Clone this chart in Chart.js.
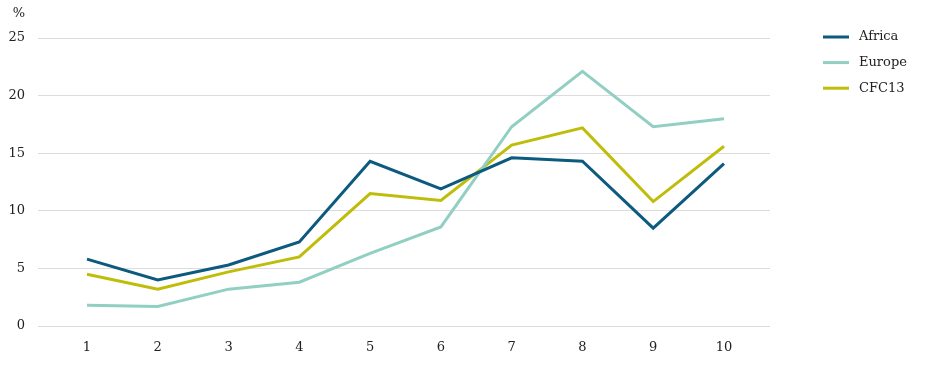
<!DOCTYPE html>
<html>
<head>
<meta charset="utf-8">
<script src="https://cdn.jsdelivr.net/npm/chart.js@4"></script>
<style>
  html, body { margin: 0; padding: 0; background: #fff; }
  #wrap { width: 949px; height: 370px; }
</style>
</head>
<body>
<div id="wrap"><canvas id="chart" width="949" height="370"></canvas></div>
<script>
// Datos
const categories = [1, 2, 3, 4, 5, 6, 7, 8, 9, 10];
const africa = [5.8, 4.0, 5.3, 7.3, 14.3, 11.9, 14.6, 14.3, 8.5, 14.1];
const europe = [1.8, 1.7, 3.2, 3.8, 6.3, 8.6, 17.3, 22.1, 17.3, 18.0];
const cfc13 = [4.5, 3.2, 4.7, 6.0, 11.5, 10.9, 15.7, 17.2, 10.8, 15.6];
const yTicks = [0, 5, 10, 15, 20, 25];
const unitLabel = '%';

const FONT = '"DejaVu Serif", serif';

function toPoints(values) {
  return categories.map((c, i) => ({ x: c, y: values[i] }));
}

// Leyenda a la derecha y etiqueta de unidad
const legendPlugin = {
  id: 'sideLegend',
  afterDraw(chart) {
    const ctx = chart.ctx;
    const area = chart.chartArea;
    ctx.save();
    ctx.font = '13px ' + FONT;
    ctx.fillStyle = '#222';
    ctx.textBaseline = 'middle';

    // "%" sobre las etiquetas del eje y
    ctx.textAlign = 'right';
    ctx.fillText(unitLabel, 25, 14);

    ctx.textAlign = 'left';
    chart.data.datasets.forEach((ds, i) => {
      const y = area.top - 1 + i * 25.6;
      const x0 = area.right + 53;
      ctx.strokeStyle = ds.borderColor;
      ctx.lineWidth = 3;
      ctx.beginPath();
      ctx.moveTo(x0, y);
      ctx.lineTo(x0 + 26, y);
      ctx.stroke();
      ctx.fillStyle = '#222';
      ctx.fillText(ds.label, x0 + 36, y);
    });
    ctx.restore();
  }
};

new Chart(document.getElementById('chart'), {
  type: 'line',
  data: {
    datasets: [
      { label: 'Africa', data: toPoints(africa), borderColor: '#0d5a7f' },
      { label: 'Europe', data: toPoints(europe), borderColor: '#92cfc3' },
      { label: 'CFC13', data: toPoints(cfc13), borderColor: '#bfbd0a' },
    ],
  },
  options: {
    responsive: false,
    animation: false,
    layout: { padding: { top: 38, right: 179, left: 0, bottom: 0 } },
    elements: {
      line: { borderWidth: 3, tension: 0, fill: false },
      point: { radius: 0, hoverRadius: 0 },
    },
    scales: {
      x: {
        type: 'linear',
        min: 0.308,
        max: 10.65,
        border: { display: false },
        grid: { display: false },
        afterBuildTicks(scale) {
          scale.ticks = categories.map(v => ({ value: v }));
        },
        afterFit(scale) { scale.height = 44; },
        ticks: {
          padding: 6,
          color: '#222',
          font: { family: FONT, size: 13 },
          callback: v => String(v),
        },
      },
      y: {
        min: 0,
        max: 25,
        border: { display: false },
        grid: { color: '#dcdcdc', lineWidth: 1, drawTicks: false },
        afterBuildTicks(scale) {
          scale.ticks = yTicks.map(v => ({ value: v }));
        },
        afterFit(scale) { scale.width = 38; },
        ticks: {
          padding: 13,
          color: '#222',
          font: { family: FONT, size: 13 },
        },
      },
    },
    plugins: {
      legend: { display: false },
      tooltip: { enabled: false },
    },
  },
  plugins: [legendPlugin],
});
</script>
</body>
</html>
